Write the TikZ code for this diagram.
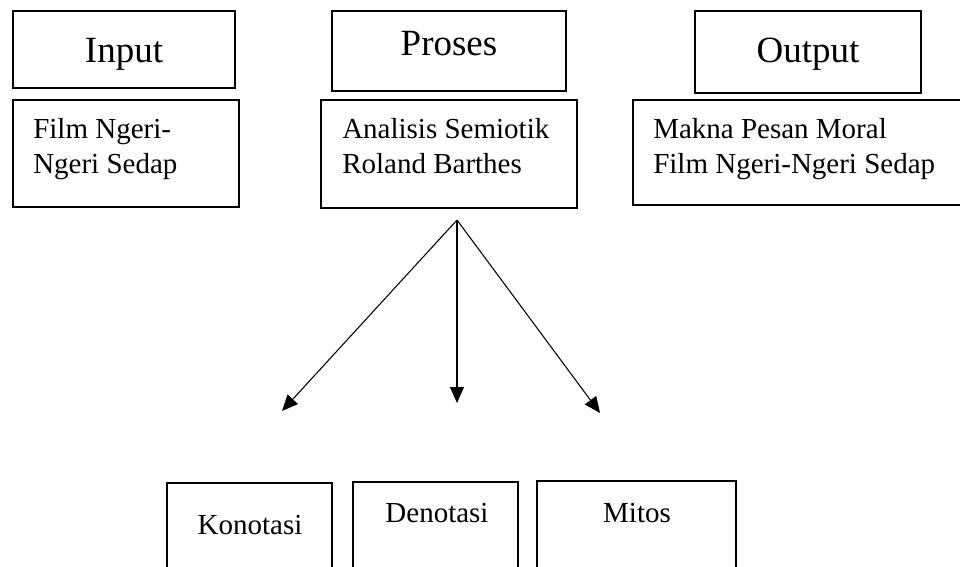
\documentclass[tikz,border=0pt]{standalone}
\usepackage{fontspec}
\setmainfont{Liberation Serif}
\usetikzlibrary{arrows.meta}
\begin{document}
\begin{tikzpicture}[x=0.75pt,y=-0.75pt,
  box/.style={draw,line width=1pt,inner sep=0pt,outer sep=0pt},
  head/.style={inner sep=0pt,anchor=base,font=\fontsize{27.75}{30}\selectfont},
  body/.style={inner sep=0pt,anchor=base west,font=\fontsize{21.75}{26}\selectfont},
  bodyc/.style={inner sep=0pt,anchor=base,font=\fontsize{21.75}{26}\selectfont},
  arr/.style={line width=0.8pt,-{Triangle[length=12pt,width=10.5pt]}}]
\useasboundingbox (0,0) rectangle (960,567);
\clip (0,0) rectangle (960,567);
% top boxes
\node[box,minimum width=222*0.75pt,minimum height=77*0.75pt] (inbox) at (124,49.5) {};
\node[box,minimum width=226*0.75pt,minimum height=107*0.75pt] (film) at (126,153.5) {};
\node[box,minimum width=234*0.75pt,minimum height=80*0.75pt] (probox) at (449,51) {};
\node[box,minimum width=256*0.75pt,minimum height=108*0.75pt] (anal) at (449,154) {};
\node[box,minimum width=226*0.75pt,minimum height=82*0.75pt] (outbox) at (808,52) {};
\node[box,minimum width=347*0.75pt,minimum height=105*0.75pt] (makna) at (806.5,152.5) {};
% bottom boxes
\node[box,minimum width=165*0.75pt,minimum height=117*0.75pt] (kon) at (249.5,541.5) {};
\node[box,minimum width=165*0.75pt,minimum height=118*0.75pt] (den) at (435.5,541) {};
\node[box,minimum width=199*0.75pt,minimum height=119*0.75pt] (mit) at (636.5,540.5) {};
% texts
\node[head] (tin) at (124,63) {Input};
\node[head] (tpro) at (449,56) {Proses};
\node[head] (tout) at (808,63) {Output};
\node[body] (f1) at (33,138) {Film Ngeri-};
\node[body] (f2) at (33,173) {Ngeri Sedap};
\node[body] (a1) at (342,138) {Analisis Semiotik};
\node[body] (a2) at (342,173) {Roland Barthes};
\node[body] (m1) at (653,138) {Makna Pesan Moral};
\node[body] (m2) at (653,173) {Film Ngeri-Ngeri Sedap};
\node[bodyc] (tkon) at (250,534) {Konotasi};
\node[bodyc] (tden) at (437,522) {Denotasi};
\node[bodyc] (tmit) at (637,522) {Mitos};
% arrows
\coordinate (apex) at (457,220);
\coordinate (tipl) at (282,411);
\coordinate (tipm) at (457,403);
\coordinate (tipr) at (600,413);
\draw[arr] (apex) -- (tipl);
\draw[arr] (apex) -- (tipm);
\draw[arr] (apex) -- (tipr);
\end{tikzpicture}
\end{document}
